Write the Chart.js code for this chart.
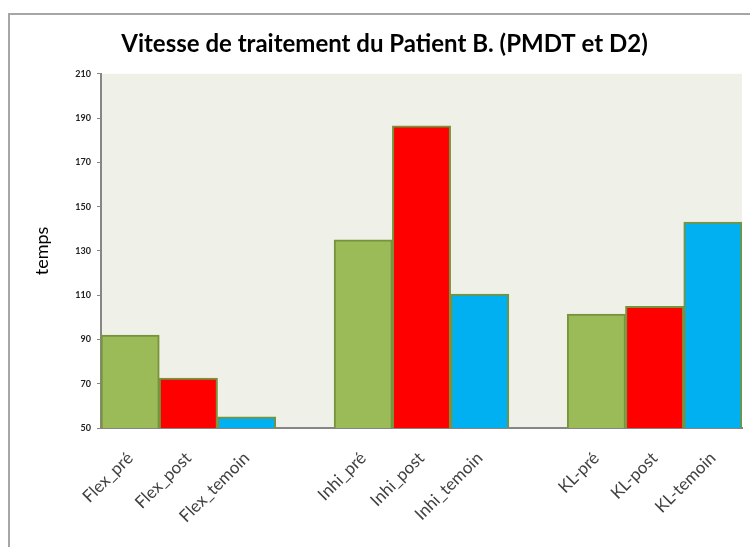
<!DOCTYPE html>
<html>
<head>
<meta charset="utf-8">
<script src="https://cdn.jsdelivr.net/npm/chart.js@4/dist/chart.umd.min.js"></script>
<style>
  html, body { margin: 0; padding: 0; background: #ffffff; }
  #wrap { position: relative; width: 750px; height: 547px; overflow: hidden; }
  #frame { position: absolute; left: 8px; top: 13px; width: 760px; height: 560px;
           border-left: 2px solid #a6a6a6; border-top: 2px solid #a6a6a6; }
  canvas { position: absolute; left: 0; top: 0; }
</style>
</head>
<body>
<div id="wrap">
  <div id="frame"></div>
  <canvas id="c" width="750" height="547"></canvas>
</div>
<script>
// ---- data ----
const categories = ['Flex_pré', 'Flex_post', 'Flex_temoin', '', 'Inhi_pré', 'Inhi_post', 'Inhi_temoin', '', 'KL-pré', 'KL-post', 'KL-temoin'];
const values = [92, 72.5, 55, null, 135, 186.5, 110.5, null, 101.5, 105, 143];
const barColors = ['#9BBB59', '#FF0000', '#00B0F0', '#9BBB59', '#9BBB59', '#FF0000', '#00B0F0', '#9BBB59', '#9BBB59', '#FF0000', '#00B0F0'];
const yMin = 50, yMax = 210, yStep = 20;
const titleText = 'Vitesse de traitement du Patient B. (PMDT et D2)';
const yTitle = 'temps';

const plotBg = {
  id: 'plotBg',
  beforeDraw(chart) {
    const { ctx, chartArea: a } = chart;
    ctx.save();
    ctx.fillStyle = '#EFF1E9';
    ctx.fillRect(a.left, a.top, a.right - a.left, a.bottom - a.top);
    ctx.restore();
  }
};

new Chart(document.getElementById('c'), {
  type: 'bar',
  data: {
    labels: categories,
    datasets: [{
      data: values,
      backgroundColor: barColors,
      borderColor: '#77933C',
      borderWidth: 2,
      barPercentage: 1,
      categoryPercentage: 1
    }]
  },
  options: {
    responsive: false,
    animation: false,
    layout: { padding: { left: 27, right: 8, top: 0, bottom: 0 } },
    plugins: {
      legend: { display: false },
      tooltip: { enabled: false },
      title: {
        display: true,
        text: titleText,
        color: '#000000',
        font: { family: 'Lato', size: 24, weight: 'bold' },
        padding: { top: 30, bottom: 15 }
      }
    },
    scales: {
      x: {
        grid: { drawOnChartArea: false, drawTicks: false },
        border: { color: '#868686', width: 2 },
        ticks: {
          autoSkip: false,
          maxRotation: 45,
          minRotation: 45,
          padding: 20,
          color: '#404040',
          font: { family: 'Lato', size: 17 }
        },
        afterFit(scale) { scale.height = 119; }
      },
      y: {
        min: yMin,
        max: yMax,
        grid: { drawOnChartArea: false, drawTicks: true, tickLength: 4, color: '#868686' },
        border: { color: '#868686', width: 2 },
        ticks: {
          stepSize: yStep,
          padding: 6,
          color: '#222222',
          font: { family: 'Lato', size: 9, weight: 'bold' }
        },
        title: {
          display: true,
          text: yTitle,
          color: '#000000',
          font: { family: 'Lato', size: 18 },
          padding: { top: 4, bottom: 0 }
        },
        afterFit(scale) { scale.width = 74; }
      }
    }
  },
  plugins: [plotBg]
});
</script>
</body>
</html>
